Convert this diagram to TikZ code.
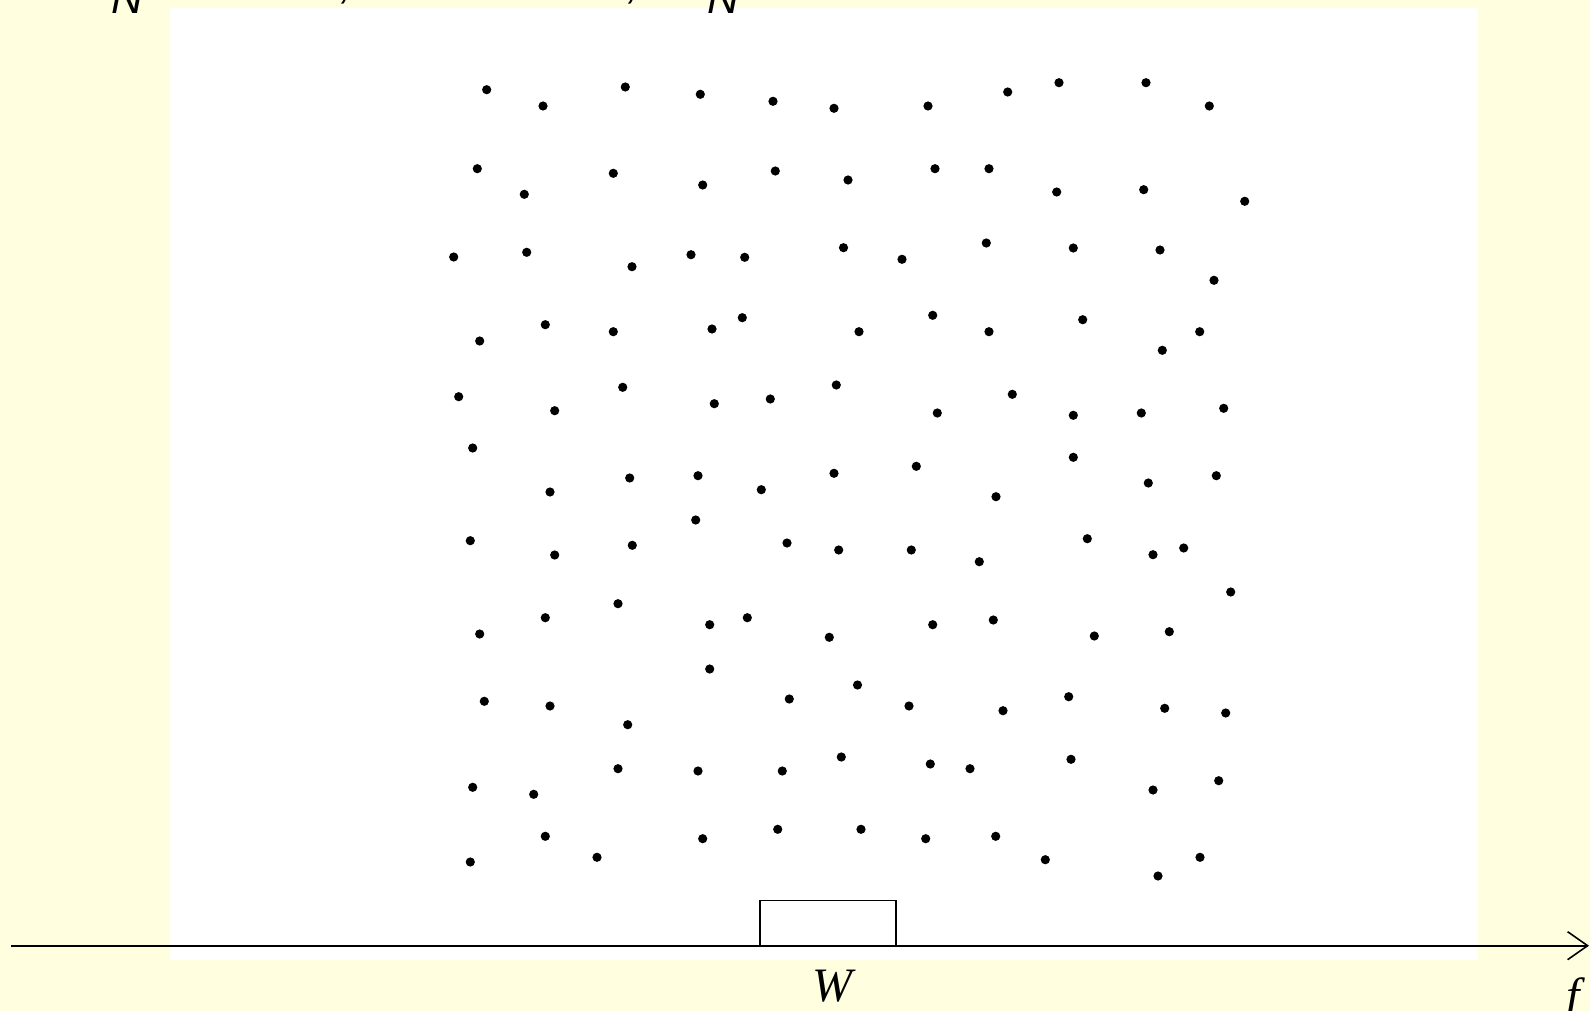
\documentclass[tikz,border=0pt]{standalone}
\usepackage{fontspec}
\newfontfamily\serifitfont{Liberation Serif}
\newfontfamily\sansitfont{Liberation Sans}
\usetikzlibrary{arrows.meta}
\definecolor{bgyellow}{RGB}{255,255,224}
\begin{document}
\begin{tikzpicture}[x=1pt,y=-1pt,
  dotmark/.style={fill=black},
  axislabel/.style={inner sep=0pt, font=\serifitfont\itshape\fontsize{48}{48}\selectfont},
  toplabel/.style={inner sep=0pt, anchor=base west, font=\sansitfont\itshape\fontsize{44}{44}\selectfont},
  windowbox/.style={draw, line width=1.3pt, inner sep=0pt, outer sep=0pt, minimum width=136pt, minimum height=45pt, anchor=south west}]
\useasboundingbox (0,0) rectangle (1590,1011);
\clip (0,0) rectangle (1590,1011);
\fill[bgyellow] (0,0) rectangle (1590,1011);
\fill[white] (170,8) rectangle (1478,960);
% top partially visible labels
\node[toplabel] (n1) at (111,14) {N};
\node[toplabel] (c1) at (340,-1.5) {,};
\node[toplabel] (c2) at (627,-1.5) {,};
\node[toplabel] (n2) at (707,14) {N};
% dots
\foreach \px/\py in {486.7/89.7, 543/106, 625.3/87, 700.3/94.3, 773/101.3, 834/108.3,
  477.3/168.7, 524.3/194.3, 613.3/173.3, 702.7/185, 775.3/171, 848/180,
  453.7/257, 526.7/252.3, 632/266.7, 691/254.7, 744.7/257.3, 843.5/247.7,
  479.7/341, 545.3/324.7, 613.3/331.7, 712/329, 742.3/317.7, 859/331.7,
  928/106, 1007.7/92, 1059/82.7, 1146/82.7, 1209.3/106,
  935/168.7, 989/168.7, 1056.7/192, 1143.7/189.7, 1244.7/201.3,
  902/259.3, 986.3/243, 1073.3/248, 1160/250, 1214/280.3,
  932.7/315.3, 989/331.7, 1082.7/319.7, 1162.3/350.3, 1199.7/331.7,
  458.7/396.7, 554.7/410.7, 622.7/387.3, 714.3/403.7, 770.3/399, 836.3/385,
  937.3/413, 1012.3/394.3, 1073.3/415.3, 1141.3/413, 1223.7/408.3,
  472.7/448, 550/492, 629.7/478, 698/475.7, 761.3/489.7, 834/473.3,
  916.3/466.3, 996/496.7, 1073.3/457.3, 1148.3/483, 1216.3/475.7, 695.7/520,
  470.3/540.7, 554.7/555, 632.3/545.3, 787/543, 838.7/550, 911.3/550,
  979.3/561.7, 1087.3/538.7, 1153/554.7, 1183.7/548, 1230.7/592,
  479.7/634, 545.3/617.7, 618/603.7, 709.7/624.7, 747.3/617.7, 829.3/637.3,
  932.7/624.7, 993.3/620, 1094.3/636, 1169.3/631.7, 709.7/669,
  484.3/701.3, 550/706, 627.7/724.7, 789.3/699, 857.5/685, 909/706,
  1003/710.7, 1068.7/696.7, 1164.7/708.3, 1225.7/713,
  472.7/787.3, 533.7/794.3, 618/768.7, 698/771, 782.3/771, 841.3/757,
  930.3/764, 970/768.7, 1071/759.3, 1153/790, 1218.7/780.7,
  470.3/862, 545.3/836.3, 597/857.3, 702.7/838.7, 777.7/829.3, 861/829.3,
  925.7/838.7, 995.7/836.3, 1045.3/859.7, 1158/876, 1200/857.3}
  \fill[dotmark] (\px,\py) circle (4.6pt);
% window box on the axis
\node[windowbox] (win) at (760,945.7) {};
% axis
\coordinate (axstart) at (11,945.7);
\coordinate (axend) at (1589,945.7);
\draw[line width=2.3pt, -{Straight Barb[length=20pt,width=28pt,line width=1.6pt]}] (axstart) -- (axend);
% labels
\node[axislabel, anchor=base] (wlab) at (832,1001) {W};
\node[axislabel, anchor=base west] (flab) at (1566,1011) {f};
\end{tikzpicture}
\end{document}
